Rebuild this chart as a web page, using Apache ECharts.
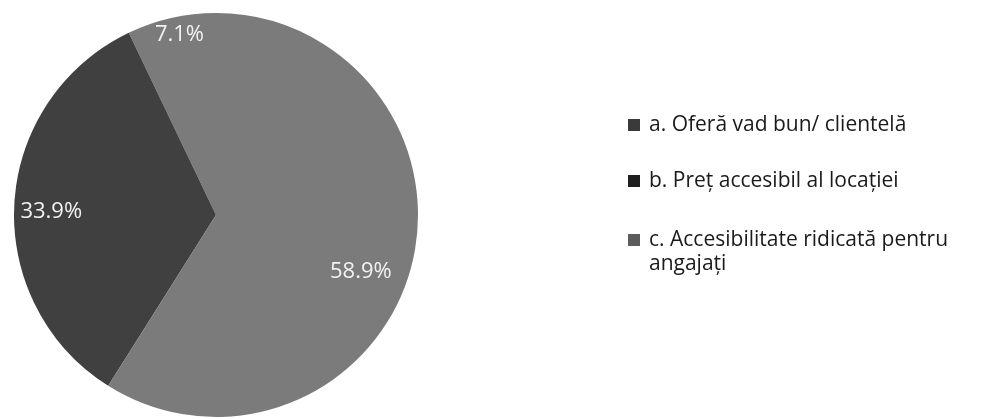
<!DOCTYPE html>
<html>
<head>
<meta charset="utf-8">
<script src="https://cdn.jsdelivr.net/npm/echarts@6/dist/echarts.min.js"></script>
<style>
  html, body { margin: 0; padding: 0; background: #ffffff; }
  #chart { width: 988px; height: 419px; }
</style>
</head>
<body>
<div id="chart"></div>
<script>
const categories = [
  'a. Oferă vad bun/ clientelă',
  'b. Preț accesibil al locației',
  'c. Accesibilitate ridicată pentru angajați'
];
const values = [7.1, 33.9, 58.9];

const sliceColors = ['#7b7b7b', '#404040', '#7b7b7b'];
const legendColors = ['#3a3a3a', '#1f1f1f', '#5c5c5c'];
// label placement tweaks (negative label-line lengths pull the labels inside the pie)
const labelLen = [-17, -152, 2];
const labelLen2 = [-29, 84, -82];

const chart = echarts.init(document.getElementById('chart'), null, { renderer: 'canvas' });

const fontFamily = '"Open Sans", "Noto Sans", sans-serif';

const option = {
  backgroundColor: '#ffffff',
  animation: false,
  legend: [
    {
      orient: 'vertical',
      left: 628,
      top: 113,
      padding: 0,
      itemGap: 32,
      itemWidth: 12,
      itemHeight: 12,
      icon: 'rect',
      selectedMode: false,
      textStyle: { fontFamily, fontSize: 21, color: '#1a1a1a', lineHeight: 24, padding: [0, 0, 0, 4] },
      data: categories.slice(0, 2).map((n, i) => ({ name: n, itemStyle: { color: legendColors[i] } }))
    },
    {
      orient: 'vertical',
      left: 628,
      top: 204,
      padding: 0,
      itemWidth: 12,
      itemHeight: 12,
      icon: 'rect',
      selectedMode: false,
      formatter: (name) => '\n' + name,
      textStyle: {
        fontFamily, fontSize: 21, color: '#1a1a1a', lineHeight: 24,
        width: 320, overflow: 'break', padding: [0, 0, 0, 4]
      },
      data: [{ name: categories[2], itemStyle: { color: legendColors[2] } }]
    }
  ],
  series: [
    {
      type: 'pie',
      center: [216, 215],
      radius: [0, 202],
      startAngle: 90,
      clockwise: false,
      avoidLabelOverlap: false,
      silent: true,
      itemStyle: { borderWidth: 0 },
      label: {
        show: true,
        position: 'outside',
        formatter: (p) => p.value.toFixed(1) + '%',
        fontFamily,
        fontSize: 22,
        color: '#f2f2f2',
        distanceToLabelLine: 0
      },
      labelLine: { show: false },
      data: categories.map((n, i) => ({
        name: n,
        value: values[i],
        itemStyle: { color: sliceColors[i] },
        labelLine: { show: false, length: labelLen[i], length2: labelLen2[i] }
      }))
    }
  ]
};

chart.setOption(option);
</script>
</body>
</html>
